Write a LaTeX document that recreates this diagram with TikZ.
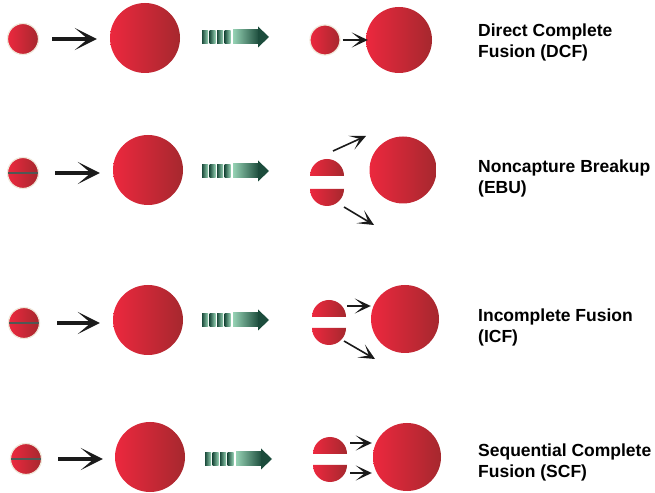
\documentclass[tikz,border=0pt]{standalone}
\usepackage{fontspec}
\setmainfont{Liberation Sans}
\usetikzlibrary{arrows.meta,calc}
\definecolor{redL}{RGB}{236,40,62}
\definecolor{redR}{RGB}{166,40,46}
\definecolor{rimc}{RGB}{240,232,218}
\definecolor{gDark}{RGB}{28,76,60}
\definecolor{gLight}{RGB}{150,210,180}
\definecolor{arrowk}{RGB}{26,26,26}
\definecolor{slinec}{RGB}{80,88,84}
\tikzset{
  sphere/.style={circle, inner sep=0pt, minimum size=#1, left color=redL, right color=redR},
  smallsphere/.style={sphere=#1, draw=rimc, line width=1.2pt},
  bigarr/.style={draw=arrowk, line width=3.2pt, -{Stealth[length=22pt,width=22pt,inset=13pt]}},
  smallarr/.style={draw=arrowk, line width=1.6pt, -{Stealth[length=16pt,width=15pt,inset=9pt]}},
  sline/.style={draw=slinec, line width=1.5pt},
  capt/.style={anchor=base west, align=left, font=\bfseries\fontsize{17.5}{21}\selectfont, inner sep=0pt},
  pics/stripearrow/.style={code={
    \foreach \xx in {-33,-25.5,-18,-10.5}{
      \shade[left color=gDark, right color=gLight] (\xx,-6.5) rectangle ++(6,13);
    }
    \shade[left color=gLight, right color=gDark] (-2,-7) rectangle (24,7);
    \fill[gDark] (23,-10.5) -- (34,0) -- (23,10.5) -- cycle;
  }},
  pics/halfup/.style={code={
    \shade[left color=redL, right color=redR] (-17,0) arc[start angle=180, end angle=0, radius=17pt] -- cycle;
  }},
  pics/halfdown/.style={code={
    \shade[left color=redL, right color=redR] (-17,0) arc[start angle=180, end angle=360, radius=17pt] -- cycle;
  }},
}
\begin{document}
\begin{tikzpicture}[x=1pt,y=1pt]
\fill[white] (0,0) rectangle (655,492);
\useasboundingbox (0,0) rectangle (655,492);

% Row 1
\node[smallsphere=31pt] (s1) at (23,453) {};
\node[sphere=70pt] (b1) at (145,454) {};
\draw[bigarr] ($(s1.east)+(13,0)$) -- ($(b1.west |- s1.east)+(-13,0)$);
\pic at (235,455) {stripearrow};
\node[smallsphere=30pt] (r1) at (325,452) {};
\node[sphere=66pt] (R1) at (399,452) {};
\draw[smallarr] ($(r1.east)+(2,0)$) -- ($(R1.west)+(2,0)$);
\node[capt] (t1) at (478,434) {Direct Complete\\Fusion (DCF)};

% Row 2
\node[smallsphere=31pt] (s2) at (23,319) {};
\draw[sline] ($(s2.west)+(1.5,0)$) -- ($(s2.east)+(-1.5,0)$);
\node[sphere=70pt] (b2) at (148,322) {};
\draw[bigarr] ($(s2.east)+(16,0)$) -- ($(b2.west |- s2.east)+(-13,0)$);
\pic at (235,321) {stripearrow};
\pic at (327,316) {halfup};
\pic at (327,303) {halfdown};
\node[sphere=67pt] (R2) at (403,322) {};
\coordinate (u2s) at (333,341);
\coordinate (u2e) at (366,356);
\coordinate (d2s) at (344,285);
\coordinate (d2e) at (374,267);
\draw[smallarr] (u2s) -- (u2e);
\draw[smallarr] (d2s) -- (d2e);
\node[capt] (t2) at (478,298) {Noncapture Breakup\\(EBU)};

% Row 3
\node[smallsphere=31pt] (s3) at (24,169) {};
\draw[sline] ($(s3.west)+(1.5,0)$) -- ($(s3.east)+(-1.5,0)$);
\node[sphere=70pt] (b3) at (148,172) {};
\draw[bigarr] ($(s3.east)+(17,0)$) -- ($(b3.west |- s3.east)+(-13,0)$);
\pic at (235,172) {stripearrow};
\pic at (329,175) {halfup};
\pic at (329,164) {halfdown};
\node[sphere=68pt] (R3) at (405,173) {};
\coordinate (u3s) at (347,186);
\coordinate (d3s) at (344,151);
\coordinate (d3e) at (375,133);
\draw[smallarr] (u3s) -- (R3.west |- u3s);
\draw[smallarr] (d3s) -- (d3e);
\node[capt] (t3) at (478,149) {Incomplete Fusion\\(ICF)};

% Row 4
\node[smallsphere=31pt] (s4) at (26,33) {};
\draw[sline] ($(s4.west)+(1.5,0)$) -- ($(s4.east)+(-1.5,0)$);
\node[sphere=70pt] (b4) at (150,35) {};
\draw[bigarr] ($(s4.east)+(16,0)$) -- ($(b4.west |- s4.east)+(-12,0)$);
\pic at (238,33) {stripearrow};
\pic at (330,38) {halfup};
\pic at (330,27) {halfdown};
\node[sphere=68pt] (R4) at (407,35) {};
\coordinate (u4s) at (350,49);
\coordinate (d4s) at (350,19);
\draw[smallarr] (u4s) -- ($(R4.west |- u4s)+(-1,0)$);
\draw[smallarr] (d4s) -- ($(R4.west |- d4s)+(-1,0)$);
\node[capt] (t4) at (478,14) {Sequential Complete\\Fusion (SCF)};
\end{tikzpicture}
\end{document}
